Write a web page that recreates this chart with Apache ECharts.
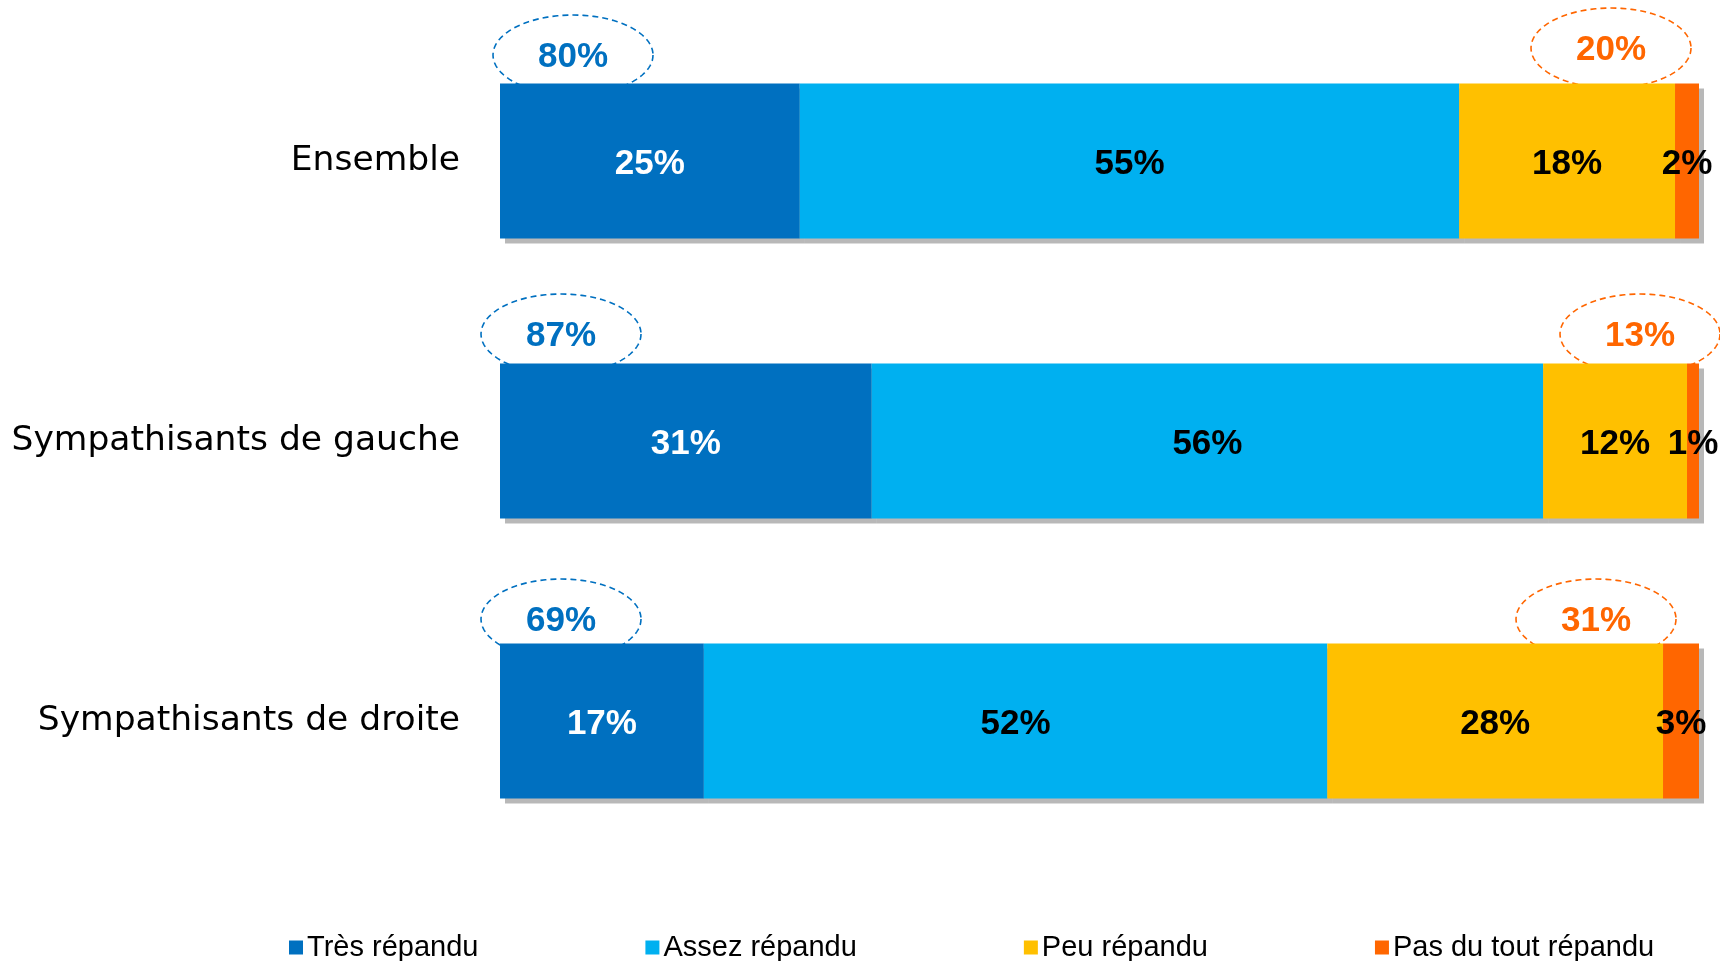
<!DOCTYPE html>
<html>
<head>
<meta charset="utf-8">
<script src="https://cdn.jsdelivr.net/npm/echarts@6/dist/echarts.min.js"></script>
<style>
html,body{margin:0;padding:0;background:#fff;}
#chart{width:1720px;height:961px;}
</style>
</head>
<body>
<div id="chart"></div>
<script>
const categories = ['Ensemble', 'Sympathisants de gauche', 'Sympathisants de droite'];
const seriesNames = ['Très répandu', 'Assez répandu', 'Peu répandu', 'Pas du tout répandu'];
const tresRepandu = [25, 31, 17];
const assezRepandu = [55, 56, 52];
const peuRepandu = [18, 12, 28];
const pasDuToutRepandu = [2, 1, 3];
const totalRepandu = [80, 87, 69];
const totalPeuRepandu = [20, 13, 31];

const colors = ['#0070C0', '#00B0F0', '#FFC000', '#FF6600'];
const values = [tresRepandu, assezRepandu, peuRepandu, pasDuToutRepandu];

const chart = echarts.init(document.getElementById('chart'));

// style: pixel shift of each callout oval from the bar end it sits on
function ellipseSeries(totals, color, side, shifts, dy) {
  return {
    type: 'custom',
    z: 1,
    silent: true,
    data: totals.map((t, i) => [i, t]),
    renderItem: function (params, api) {
      const idx = api.value(0);
      const total = api.value(1);
      const left = api.coord([0, idx]);
      const right = api.coord([100, idx]);
      const cx = side === 'left' ? left[0] + shifts[idx] : right[0] - shifts[idx];
      const cy = left[1] - dy[idx];
      const rx = 80, ry = 40;
      const pts = [];
      for (let k = 0; k <= 96; k++) {
        const a = (k / 96) * Math.PI * 2;
        pts.push([cx + rx * Math.cos(a), cy + ry * Math.sin(a)]);
      }
      return {
        type: 'group',
        children: [
          {
            type: 'polyline',
            shape: { points: pts },
            style: { stroke: color, fill: null, lineWidth: 1.6, lineDash: [6, 4] }
          },
          {
            type: 'text',
            style: {
              x: cx, y: cy + 2, text: total + '%',
              fill: color, font: 'bold 35px "Liberation Sans"',
              align: 'center', verticalAlign: 'middle'
            }
          }
        ]
      };
    }
  };
}

const barSeries = seriesNames.map((name, si) => ({
  name: name,
  type: 'bar',
  stack: 'total',
  z: 2,
  barWidth: 155,
  data: values[si],
  itemStyle: {
    color: colors[si],
    shadowColor: 'rgba(0,0,0,0.28)',
    shadowOffsetX: 5,
    shadowOffsetY: 5,
    shadowBlur: 0
  },
  label: {
    show: true,
    position: 'inside',
    offset: [0, 3],
    formatter: '{c}%',
    color: si === 0 ? '#ffffff' : '#000000',
    fontFamily: 'Liberation Sans',
    fontWeight: 'bold',
    fontSize: 35
  }
}));

chart.setOption({
  animation: false,
  backgroundColor: '#ffffff',
  grid: { left: 500, right: 21, top: 21, height: 840, containLabel: false },
  xAxis: { type: 'value', min: 0, max: 100, show: false },
  yAxis: {
    type: 'category',
    data: categories,
    inverse: true,
    axisLine: { show: false },
    axisTick: { show: false },
    splitLine: { show: false },
    axisLabel: { color: '#000', fontFamily: 'DejaVu Sans', fontSize: 34.5, margin: 40 }
  },
  legend: {
    data: seriesNames,
    left: 284,
    top: 928,
    itemWidth: 14,
    itemHeight: 14,
    itemGap: 167,
    icon: 'rect',
    textStyle: { fontFamily: 'Liberation Sans', fontSize: 29, color: '#000', padding: [0, 0, 0, -1] }
  },
  series: [
    ellipseSeries(totalRepandu, '#0070C0', 'left', [73, 61, 61], [106, 107, 102]),
    ellipseSeries(totalPeuRepandu, '#FF6600', 'right', [88, 59, 103], [113, 107, 102])
  ].concat(barSeries)
});
</script>
</body>
</html>
